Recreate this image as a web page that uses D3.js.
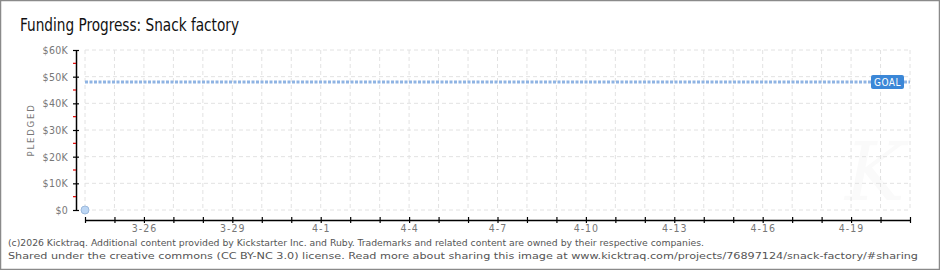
<!DOCTYPE html>
<html>
<head>
<meta charset="utf-8">
<script src="https://cdn.jsdelivr.net/npm/d3@7"></script>
<style>
  body { margin: 0; background: #fff; }
  svg { display: block; }
</style>
</head>
<body>
<div id="chart"></div>
<script>
// chart data
var title = "Funding Progress: Snack factory";
var pledgeDates = ["2026-03-24"];
var pledgeValues = [0];
var goal = 48000;
var yTicks = [0, 10000, 20000, 30000, 40000, 50000, 60000];
var xLabelDates = ["2026-03-26", "2026-03-29", "2026-04-01", "2026-04-04", "2026-04-07",
                   "2026-04-10", "2026-04-13", "2026-04-16", "2026-04-19"];
var startDate = "2026-03-24", endDate = "2026-04-21";
var footer = [
  "(c)2026 Kicktraq. Additional content provided by Kickstarter Inc. and Ruby. Trademarks and related content are owned by their respective companies.",
  "Shared under the creative commons (CC BY-NC 3.0) license. Read more about sharing this image at www.kicktraq.com/projects/76897124/snack-factory/#sharing"
];

var W = 940, H = 270;
var parse = d3.timeParse("%Y-%m-%d");

var svg = d3.select("#chart").append("svg")
    .attr("width", W)
    .attr("height", H);

// frame
svg.append("rect")
    .attr("x", 0.5).attr("y", 0.5)
    .attr("width", W - 1).attr("height", H - 1)
    .attr("fill", "#fff")
    .attr("stroke", "#8a8a8a")
    .attr("stroke-width", 1.5);

var x = d3.scaleTime()
    .domain([parse(startDate), parse(endDate)])
    .range([85, 910]);
var y = d3.scaleLinear()
    .domain([0, 60000])
    .range([210, 50]);

var days = d3.timeDay.range(parse(startDate), d3.timeDay.offset(parse(endDate), 1));

// watermark
svg.append("text")
    .attr("x", 875).attr("y", 200)
    .attr("text-anchor", "middle")
    .attr("font-family", "DejaVu Serif")
    .attr("font-style", "italic")
    .attr("font-size", 80)
    .attr("fill", "#fafafa")
    .text("K");

// grid
var grid = svg.append("g")
    .attr("stroke", "#e2e2e2")
    .attr("stroke-dasharray", "4,3");
grid.selectAll("line.v")
    .data(days)
    .enter()
    .append("line")
    .attr("x1", function (d) { return x(d) })
    .attr("x2", function (d) { return x(d) })
    .attr("y1", y(60000)).attr("y2", y(0));
grid.selectAll("line.h")
    .data(yTicks)
    .enter()
    .append("line")
    .attr("x1", x.range()[0]).attr("x2", x.range()[1])
    .attr("y1", function (d) { return y(d) })
    .attr("y2", function (d) { return y(d) });

// title
svg.append("text")
    .attr("x", 20).attr("y", 31)
    .attr("font-family", "DejaVu Sans Condensed")
    .attr("font-size", 17)
    .attr("fill", "#111")
    .attr("textLength", 219)
    .attr("lengthAdjust", "spacingAndGlyphs")
    .text(title);

// y axis
var yAxis = svg.append("g")
    .attr("transform", "translate(76,0)")
    .call(d3.axisLeft(y).tickValues(yTicks).tickSize(0)
        .tickFormat(function (d) { return d == 0 ? "$0" : "$" + d / 1000 + "K" }));
yAxis.select(".domain").attr("stroke", "#000").attr("stroke-width", 1.5);
yAxis.selectAll(".tick text")
    .attr("x", -8)
    .attr("fill", "#777")
    .attr("font-family", "DejaVu Sans Condensed")
    .attr("font-size", 10.5)
    .attr("letter-spacing", 0.3);
yAxis.selectAll(".tick").append("line")
    .attr("x1", -3).attr("x2", 3)
    .attr("stroke", "#000").attr("stroke-width", 1.2);
svg.append("g").selectAll("line")
    .data(yTicks.slice(0, -1))
    .enter()
    .append("line")
    .attr("x1", 73).attr("x2", 76)
    .attr("y1", function (d) { return y(d + 5000) })
    .attr("y2", function (d) { return y(d + 5000) })
    .attr("stroke", "#e00000").attr("stroke-width", 1.2);

svg.append("text")
    .attr("transform", "translate(34,130) rotate(-90)")
    .attr("text-anchor", "middle")
    .attr("font-family", "DejaVu Sans Condensed")
    .attr("font-size", 9.5)
    .attr("letter-spacing", 1.8)
    .attr("fill", "#777")
    .text("PLEDGED");

// x axis
var labelSet = xLabelDates.map(function (s) { return +parse(s) });
var xAxis = svg.append("g")
    .attr("transform", "translate(0,220)")
    .call(d3.axisBottom(x).tickValues(days).tickSize(0).tickSizeOuter(0)
        .tickFormat(function (d) {
            return labelSet.indexOf(+d) >= 0 ? d3.timeFormat("%-m-%-d")(d) : "";
        }));
xAxis.select(".domain").attr("stroke", "#000").attr("stroke-width", 1.5);
xAxis.selectAll(".tick text")
    .attr("y", 5)
    .attr("fill", "#777")
    .attr("font-family", "DejaVu Sans Condensed")
    .attr("font-size", 10.5)
    .attr("letter-spacing", 1);
xAxis.selectAll(".tick").append("line")
    .attr("y1", -3).attr("y2", 3)
    .attr("stroke", "#000").attr("stroke-width", 1.2);

// goal line
svg.append("line")
    .attr("x1", x.range()[0]).attr("x2", x.range()[1])
    .attr("y1", y(goal)).attr("y2", y(goal))
    .attr("stroke", "#8fb4e3")
    .attr("stroke-width", 3)
    .attr("stroke-dasharray", "3,1.5");
svg.append("rect")
    .attr("x", 871).attr("y", y(goal) - 7)
    .attr("width", 33).attr("height", 14)
    .attr("rx", 2)
    .attr("fill", "#3b87d7");
svg.append("text")
    .attr("x", 887.5).attr("y", y(goal) + 3.5)
    .attr("text-anchor", "middle")
    .attr("font-family", "DejaVu Sans Condensed")
    .attr("font-size", 10)
    .attr("letter-spacing", 0.5)
    .attr("fill", "#fff")
    .text("GOAL");

// pledged points
var pts = pledgeDates.map(function (d, i) { return { date: parse(d), value: pledgeValues[i] } });
svg.append("path")
    .datum(pts)
    .attr("fill", "none")
    .attr("stroke", "#9cc0ea")
    .attr("stroke-width", 2)
    .attr("d", d3.line()
        .x(function (d) { return x(d.date) })
        .y(function (d) { return y(d.value) }));
svg.append("g")
    .selectAll("circle")
    .data(pts)
    .enter()
    .append("circle")
    .attr("cx", function (d) { return x(d.date) })
    .attr("cy", function (d) { return y(d.value) })
    .attr("r", 4)
    .attr("fill", "#bcd6f4")
    .attr("stroke", "#9cb9dc")
    .attr("stroke-width", 1);

// footer
svg.selectAll("text.footer")
    .data(footer)
    .enter()
    .append("text")
    .attr("class", "footer")
    .attr("x", 8)
    .attr("y", function (d, i) { return 246 + i * 13 })
    .attr("font-family", "DejaVu Sans Condensed")
    .attr("font-size", 9.5)
    .attr("fill", "#555")
    .attr("textLength", function (d, i) { return i == 0 ? 696 : 910 })
    .attr("lengthAdjust", "spacingAndGlyphs")
    .text(function (d) { return d });
</script>
</body>
</html>
